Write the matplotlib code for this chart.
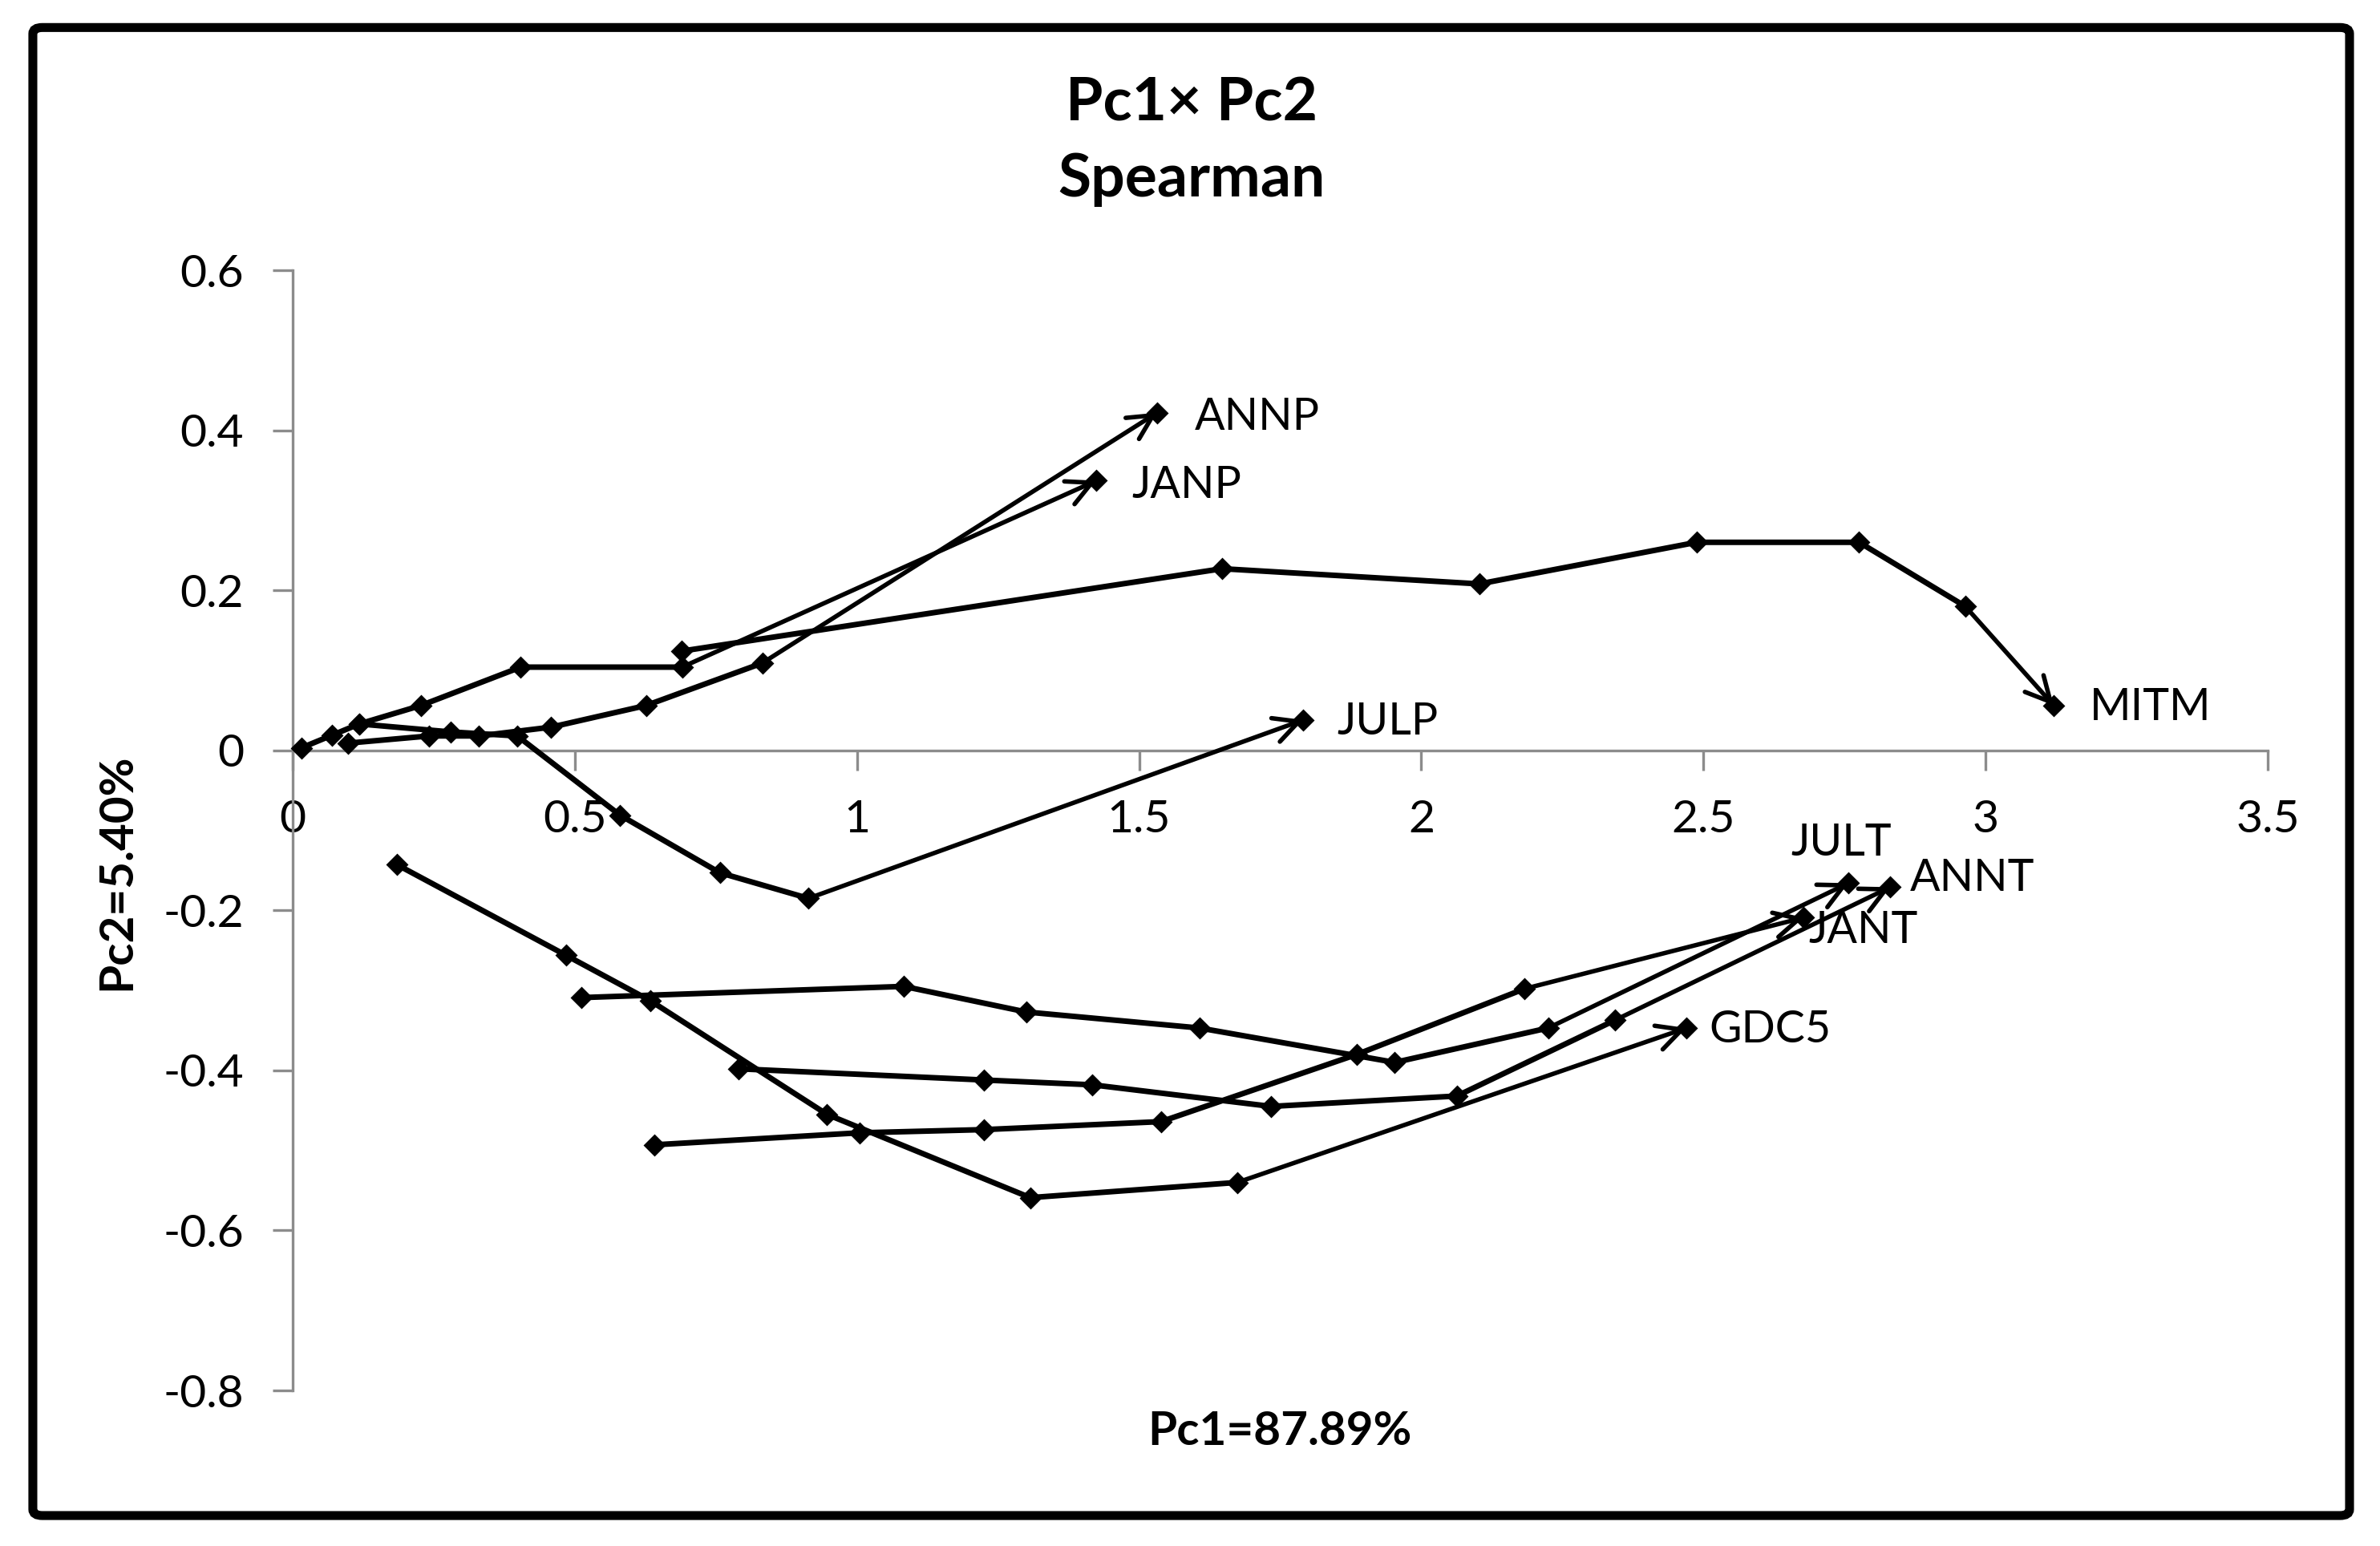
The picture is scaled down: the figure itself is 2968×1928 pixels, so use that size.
import matplotlib

matplotlib.use("Agg")
import matplotlib.pyplot as plt
from matplotlib.patches import FancyBboxPatch
from matplotlib.ticker import FuncFormatter

plt.rcParams["font.family"] = ["Lato", "DejaVu Sans"]
plt.rcParams["axes.unicode_minus"] = False

# --- trajectories (last point = arrow tip) ------------------------------------------
ANNP_X = [0.098, 0.242, 0.330, 0.458, 0.626, 0.832, 1.532]
ANNP_Y = [0.009, 0.018, 0.018, 0.029, 0.056, 0.109, 0.422]
JANP_X = [0.015, 0.070, 0.118, 0.227, 0.404, 0.690, 1.424]
JANP_Y = [0.003, 0.019, 0.033, 0.056, 0.104, 0.104, 0.337]
MITM_X = [0.689, 1.647, 2.103, 2.488, 2.776, 2.964, 3.121]
MITM_Y = [0.124, 0.227, 0.208, 0.260, 0.260, 0.180, 0.056]
JULP_X = [0.118, 0.280, 0.398, 0.580, 0.757, 0.914, 1.791]
JULP_Y = [0.033, 0.023, 0.018, -0.081, -0.153, -0.185, 0.038]
JULT_X = [0.512, 1.083, 1.300, 1.607, 1.953, 2.225, 2.757]
JULT_Y = [-0.309, -0.295, -0.327, -0.347, -0.390, -0.347, -0.166]
ANNT_X = [0.790, 1.225, 1.417, 1.734, 2.063, 2.344, 2.831]
ANNT_Y = [-0.398, -0.412, -0.418, -0.445, -0.432, -0.337, -0.171]
JANT_X = [0.641, 1.004, 1.225, 1.539, 1.886, 2.183, 2.678]
JANT_Y = [-0.493, -0.478, -0.474, -0.464, -0.380, -0.298, -0.209]
GDC5_X = [0.185, 0.484, 0.634, 0.947, 1.307, 1.674, 2.470]
GDC5_Y = [-0.143, -0.256, -0.313, -0.455, -0.559, -0.540, -0.347]

NAMES = ["ANNP", "JANP", "MITM", "JULP", "JULT", "ANNT", "JANT", "GDC5"]
XS = [ANNP_X, JANP_X, MITM_X, JULP_X, JULT_X, ANNT_X, JANT_X, GDC5_X]
YS = [ANNP_Y, JANP_Y, MITM_Y, JULP_Y, JULT_Y, ANNT_Y, JANT_Y, GDC5_Y]

X_TICKS = [0, 0.5, 1, 1.5, 2, 2.5, 3, 3.5]
Y_TICKS = [-0.8, -0.6, -0.4, -0.2, 0, 0.2, 0.4, 0.6]

# label offsets from the arrow tip, in points
LABEL_OFFSET = {
    "ANNP": (17, -2), "JANP": (16, -2), "MITM": (16, -1), "JULP": (15, -1),
    "JULT": (-26, 18), "ANNT": (9, 4), "JANT": (2, -6), "GDC5": (10, -1),
}

AXIS_GREY = "#8c8c8c"


def main() -> None:
    fig = plt.figure(figsize=(14.84, 9.64), dpi=200)
    ax = fig.add_axes([0.1230, 0.1006, 0.8298, 0.7246])

    for name, xs, ys in zip(NAMES, XS, YS):
        ax.plot(xs[:-1], ys[:-1], "-", color="black", linewidth=2.5,
                marker="D", markersize=6, zorder=3, clip_on=False)
        ax.plot(xs[-1:], ys[-1:], "D", color="black", markersize=6, zorder=3,
                clip_on=False)
        ax.annotate("", xy=(xs[-1], ys[-1]), xytext=(xs[-2], ys[-2]),
                    arrowprops=dict(arrowstyle="->,head_length=0.55,head_width=0.28",
                                    color="black", lw=2.0, shrinkA=0, shrinkB=0,
                                    mutation_scale=20),
                    zorder=3)
        dx, dy = LABEL_OFFSET[name]
        ax.annotate(name, xy=(xs[-1], ys[-1]), xytext=(dx, dy),
                    textcoords="offset points", ha="left", va="center",
                    fontsize=20, color="black")

    ax.set_xlim(0, 3.5)
    ax.set_ylim(-0.8, 0.6)
    ax.set_xticks(X_TICKS)
    ax.set_yticks(Y_TICKS)
    fmt = FuncFormatter(lambda v, _: f"{v:g}")
    ax.xaxis.set_major_formatter(fmt)
    ax.yaxis.set_major_formatter(fmt)

    for s in ("top", "right"):
        ax.spines[s].set_visible(False)
    ax.spines["bottom"].set_position(("data", 0))
    for s in ("left", "bottom"):
        ax.spines[s].set_color(AXIS_GREY)
        ax.spines[s].set_linewidth(1.2)
    ax.tick_params(axis="both", direction="out", length=9, width=1.2,
                   color=AXIS_GREY, labelsize=20.5, pad=13)
    ax.patch.set_visible(False)

    fig.text(0.5007, 0.933, "Pc1\u00d7 Pc2", ha="center", va="center",
             fontsize=27, fontweight="bold")
    fig.text(0.5007, 0.884, "Spearman", ha="center", va="center",
             fontsize=27, fontweight="bold")
    fig.text(0.5378, 0.074, "Pc1=87.89%", ha="center", va="center",
             fontsize=21, fontweight="bold")
    fig.text(0.0492, 0.436, "Pc2=5.40%", ha="center", va="center",
             rotation=90, fontsize=21, fontweight="bold")

    # outer chart-area frame
    frame = FancyBboxPatch((0.0138, 0.0197), 0.9734, 0.9625,
                           boxstyle="round,pad=0,rounding_size=0.004",
                           transform=fig.transFigure, fill=False,
                           edgecolor="black", linewidth=4.0, zorder=10)
    fig.patches.append(frame)

    fig.savefig("out.png", dpi=200, facecolor="white")


if __name__ == "__main__":
    main()
